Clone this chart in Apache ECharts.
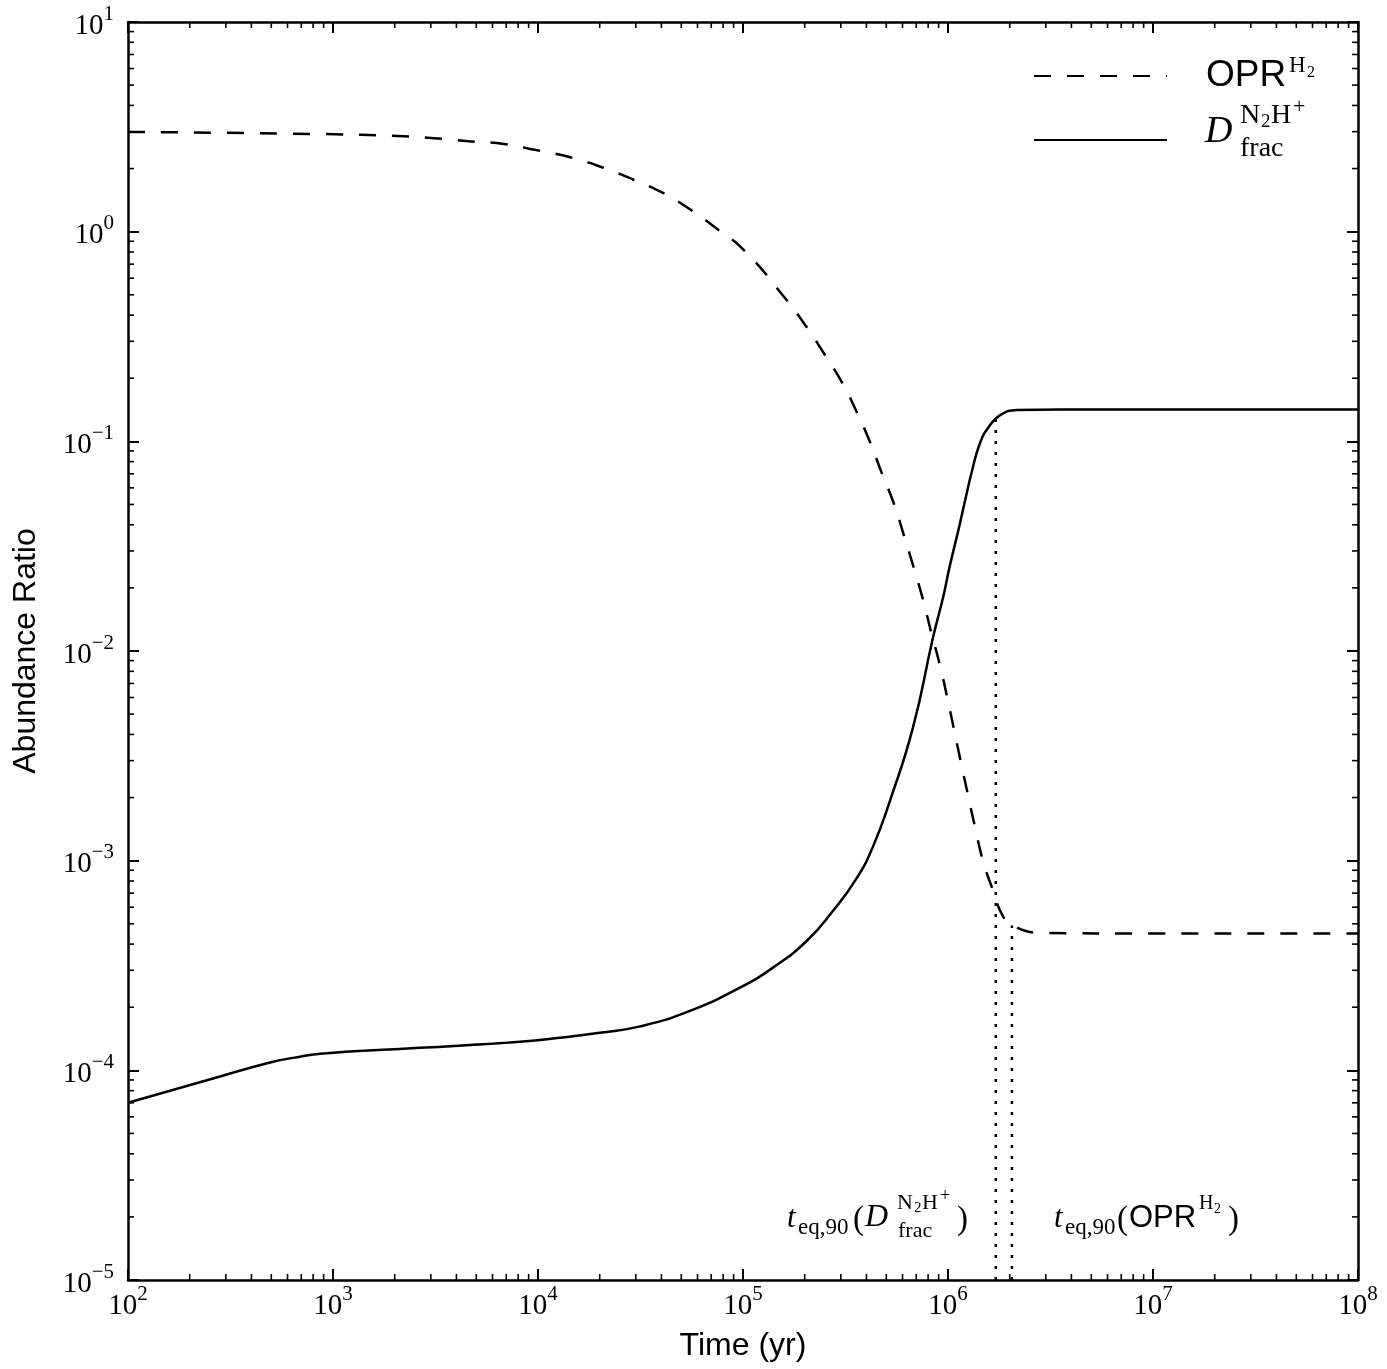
<!DOCTYPE html>
<html><head><meta charset="utf-8">
<script src="https://cdn.jsdelivr.net/npm/echarts@6/dist/echarts.min.js"></script>
<style>html,body{margin:0;padding:0;background:#fff}#c{width:1387px;height:1369px}</style>
</head><body><div id="c"></div>
<script>
// ---- data ----
const timeD = [1.00e2, 2.81e2, 4.93e2, 6.5e2, 8.65e2, 2.65e3, 8.17e3, 1.28e4, 2.0e4, 3.15e4, 5.51e4, 9.66e4, 1.40e5, 2.05e5, 2.75e5, 3.60e5, 4.31e5, 5.21e5, 6.75e5, 8.45e5, 9.46e5, 1.02e6, 1.12e6, 1.21e6, 1.31e6, 1.43e6, 1.57e6, 1.79e6, 2.17e6, 3.5e6, 1e7, 1e8];
const dfrac = [7.0e-5, 9.35e-5, 1.09e-4, 1.15e-4, 1.20e-4, 1.28e-4, 1.37e-4, 1.43e-4, 1.51e-4, 1.62e-4, 1.92e-4, 2.48e-4, 3.09e-4, 4.15e-4, 5.77e-4, 8.30e-4, 1.17e-3, 1.93e-3, 4.32e-3, 1.16e-2, 1.80e-2, 2.54e-2, 3.72e-2, 5.19e-2, 7.24e-2, 9.77e-2, 0.116, 0.133, 0.141, 0.142, 0.142, 0.142];
const timeO = [1e2, 9.04e2, 2.07e3, 3.11e3, 4.60e3, 6.82e3, 9.77e3, 1.42e4, 2.05e4, 2.81e4, 4.07e4, 5.57e4, 7.38e4, 1.01e5, 1.62e5, 2.03e5, 2.48e5, 3.04e5, 3.60e5, 4.17e5, 4.76e5, 5.46e5, 6.10e5, 6.82e5, 7.55e5, 8.26e5, 9.14e5, 9.89e5, 1.15e6, 1.36e6, 1.48e6, 1.66e6, 1.85e6, 2.07e6, 2.81e6, 1e7, 1e8];
const opr = [2.99, 2.92, 2.86, 2.79, 2.70, 2.62, 2.45, 2.27, 2.03, 1.80, 1.53, 1.27, 1.04, 0.817, 0.476, 0.354, 0.263, 0.191, 0.137, 0.0989, 0.0703, 0.0501, 0.0355, 0.0248, 0.0176, 0.0124, 8.53e-3, 6.07e-3, 3.02e-3, 1.42e-3, 1.00e-3, 7.19e-4, 5.46e-4, 4.90e-4, 4.53e-4, 4.49e-4, 4.49e-4];
// t_eq,90 markers: [time, value reached]
const teqD = [1.71e6, 0.129];
const teqO = [2.05e6, 4.9e-4];
// axes
const xRange = [1e2, 1e8];
const yRange = [1e-5, 1e1];
const decadesX = [2, 3, 4, 5, 6, 7];
const decadesY = [-5, -4, -3, -2, -1, 0];
const minorMult = [2, 3, 4, 5, 6, 7, 8, 9];

const serif = "'Liberation Serif','DejaVu Serif',serif";
const sans = "'Liberation Sans',Arial,sans-serif";

const xMinor = [];
decadesX.forEach(k => minorMult.forEach(m => xMinor.push(m * Math.pow(10, k))));
const yMinor = [];
decadesY.forEach(k => minorMult.forEach(m => yMinor.push(m * Math.pow(10, k))));

function pow10Label(v) {
  const e = Math.round(Math.log10(v));
  const s = e < 0 ? '\u2212' + (-e) : String(e);
  return '{b|10}{s|' + s + '}';
}
const labelRich = {
  b: { fontFamily: serif, fontSize: 29, color: '#000', lineHeight: 37, verticalAlign: 'bottom' },
  s: { fontFamily: serif, fontSize: 21, color: '#000', lineHeight: 22, verticalAlign: 'top' }
};
const axLine = { show: true, lineStyle: { color: '#000', width: 2.5 } };
const axTick = { show: true, inside: true, length: 11, lineStyle: { color: '#000', width: 2 } };

function T(text, x, y, size, family, italic, align) {
  return {
    type: 'text', x: x, y: y, silent: true,
    style: {
      text: text, fill: '#000', align: align || 'left', verticalAlign: 'middle',
      font: (italic ? 'italic ' : '') + size + 'px ' + family
    }
  };
}

const chart = echarts.init(document.getElementById('c'), null, { renderer: 'canvas' });
chart.setOption({
  animation: false,
  backgroundColor: '#fff',
  grid: { left: 128, right: 29, top: 22, bottom: 89, containLabel: false },
  xAxis: [
    { type: 'log', logBase: 10, min: xRange[0], max: xRange[1], splitNumber: 6, position: 'bottom',
      axisLine: axLine, axisTick: axTick, splitLine: { show: false },
      axisLabel: { formatter: pow10Label, rich: labelRich, margin: 4 },
      name: 'Time (yr)', nameLocation: 'middle', nameGap: 50,
      nameTextStyle: { fontFamily: sans, fontSize: 32, color: '#000' } },
    { type: 'log', logBase: 10, min: xRange[0], max: xRange[1], splitNumber: 6, position: 'top',
      axisLine: axLine, axisTick: axTick, splitLine: { show: false }, axisLabel: { show: false } }
  ],
  yAxis: [
    { type: 'log', logBase: 10, min: yRange[0], max: yRange[1], splitNumber: 6, position: 'left',
      axisLine: axLine, axisTick: axTick, splitLine: { show: false },
      axisLabel: { formatter: pow10Label, rich: labelRich, margin: 14 },
      name: 'Abundance Ratio', nameLocation: 'middle', nameGap: 86, nameRotate: 90,
      nameTextStyle: { fontFamily: sans, fontSize: 32, color: '#000' } },
    { type: 'log', logBase: 10, min: yRange[0], max: yRange[1], splitNumber: 6, position: 'right',
      axisLine: axLine, axisTick: axTick, splitLine: { show: false }, axisLabel: { show: false } }
  ],
  legend: {
    data: ['OPR', 'Dfrac'], orient: 'vertical', left: 1033, top: 66, padding: 0,
    itemWidth: 133, itemHeight: 20, itemGap: 46, formatter: () => '',
    selectedMode: false, textStyle: { fontSize: 1 },
    itemStyle: { opacity: 0, borderWidth: 0 }
  },
  series: [
    { name: 'OPR', type: 'line', data: timeO.map((t, i) => [t, opr[i]]),
      symbol: 'none', showSymbol: false, smooth: 0.5,
      lineStyle: { color: '#000', width: 2.5, type: [17, 16], cap: 'butt' }, itemStyle: { color: '#000' }, z: 3 },
    { name: 'Dfrac', type: 'line', data: timeD.map((t, i) => [t, dfrac[i]]),
      symbol: 'none', showSymbol: false, smooth: 0.5,
      lineStyle: { color: '#000', width: 2.5, type: 'solid' }, itemStyle: { color: '#000' }, z: 3 },
    { name: 'teqD', type: 'line', data: [[teqD[0], yRange[0]], [teqD[0], teqD[1]]],
      symbol: 'none', lineStyle: { color: '#000', width: 2.5, type: [3, 8] }, z: 2 },
    { name: 'teqO', type: 'line', data: [[teqO[0], yRange[0]], [teqO[0], teqO[1]]],
      symbol: 'none', lineStyle: { color: '#000', width: 2.5, type: [3, 8] }, z: 2 },
    { name: 'xminor', type: 'custom', silent: true, clip: false, z: 5,
      data: xMinor.map(v => [v, yRange[0]]),
      renderItem: (params, api) => {
        const v = api.value(0);
        const b = api.coord([v, yRange[0]]), t = api.coord([v, yRange[1]]);
        const st = { stroke: '#000', lineWidth: 1.6 };
        return { type: 'group', children: [
          { type: 'line', shape: { x1: b[0], y1: b[1], x2: b[0], y2: b[1] - 6 }, style: st },
          { type: 'line', shape: { x1: t[0], y1: t[1], x2: t[0], y2: t[1] + 6 }, style: st }
        ] };
      } },
    { name: 'yminor', type: 'custom', silent: true, clip: false, z: 5,
      data: yMinor.map(v => [xRange[0], v]),
      renderItem: (params, api) => {
        const v = api.value(1);
        const l = api.coord([xRange[0], v]), r = api.coord([xRange[1], v]);
        const st = { stroke: '#000', lineWidth: 1.6 };
        return { type: 'group', children: [
          { type: 'line', shape: { x1: l[0], y1: l[1], x2: l[0] + 6, y2: l[1] }, style: st },
          { type: 'line', shape: { x1: r[0], y1: r[1], x2: r[0] - 6, y2: r[1] }, style: st }
        ] };
      } }
  ],
  graphic: [
    // legend labels
    T('OPR', 1206, 76, 37, sans),
    T('H', 1289, 66, 23, serif),
    T('2', 1307, 73, 16, serif),
    T('D', 1205, 132, 38, serif, true),
    T('N', 1240, 116, 28, serif),
    T('2', 1261, 122, 19, serif),
    T('H', 1271, 116, 28, serif),
    T('+', 1293, 107, 22, serif),
    T('frac', 1240, 149, 28, serif),
    // annotation: t_eq,90(D frac)
    T('t', 787, 1219, 31, serif, true),
    T('eq,90', 798, 1228, 23, serif),
    T('(', 853, 1220, 33, serif),
    T('D', 865, 1218, 32, serif, true),
    T('N', 897, 1203, 22, serif),
    T('2', 914, 1208, 15, serif),
    T('H', 922, 1203, 22, serif),
    T('+', 940, 1196, 18, serif),
    T('frac', 898, 1231, 22, serif),
    T(')', 957, 1220, 33, serif),
    // annotation: t_eq,90(OPR)
    T('t', 1054, 1219, 31, serif, true),
    T('eq,90', 1065, 1228, 23, serif),
    T('(', 1117, 1220, 33, serif),
    T('OPR', 1129, 1218, 31, sans),
    T('H', 1199, 1204, 20, serif),
    T('2', 1214, 1209, 14, serif),
    T(')', 1228, 1220, 33, serif)
  ]
});
</script>
</body></html>
